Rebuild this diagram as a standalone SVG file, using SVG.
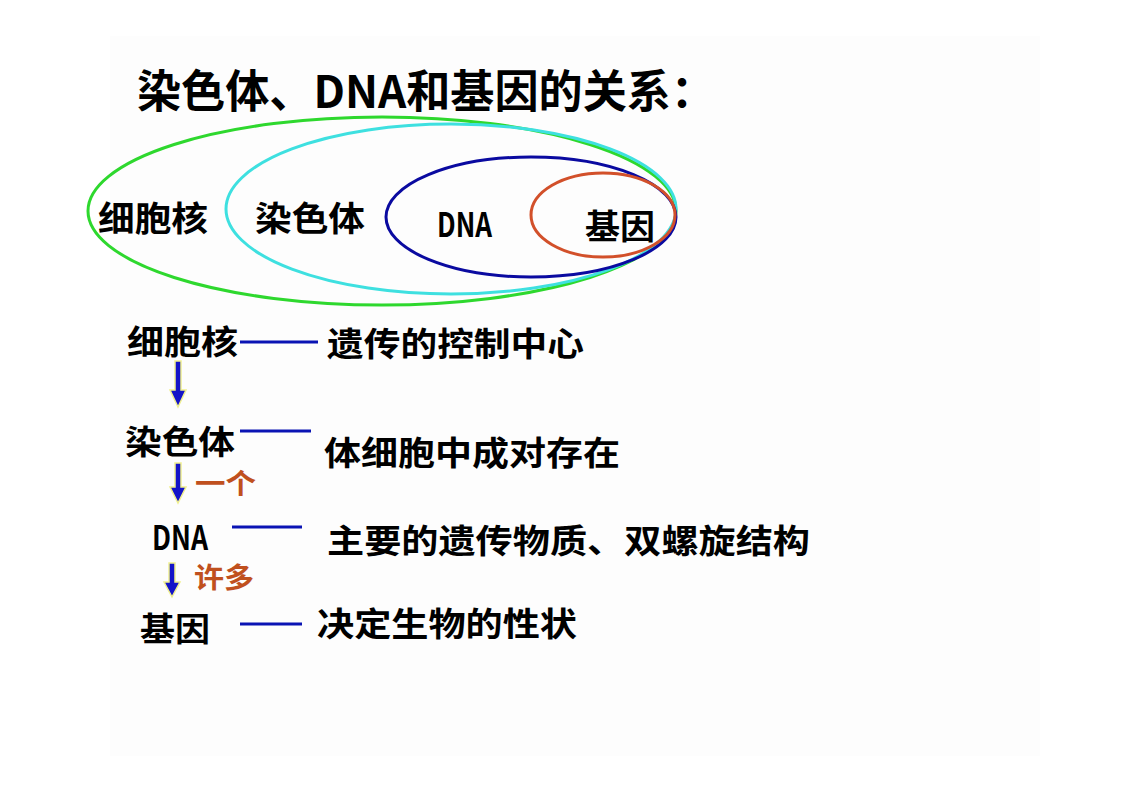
<svg xmlns="http://www.w3.org/2000/svg" width="1122" height="793" viewBox="0 0 1122 793">
<defs>
<style>
text{font-family:"Noto Sans CJK SC","Liberation Sans",sans-serif;fill:#000;font-weight:bold}
.t{font-size:34px}
.b{font-size:33px}
.r{font-size:28px;fill:#c0501e}
.ell{fill:none;stroke-width:3}
.lnk{stroke:#0a14b4;stroke-width:3;fill:none}
.arr{fill:#1414c8;stroke:#f0f090;stroke-width:1.5}
</style>
</defs>
<rect x="0" y="0" width="1122" height="793" fill="#ffffff"/>
<rect x="110" y="36" width="930" height="720" fill="#fdfdfd"/>
<g id="title"><text x="137" y="108" font-size="45" textLength="578" lengthAdjust="spacingAndGlyphs">染色体、DNA和基因的关系：</text></g>
<g id="venn">
<ellipse id="e-nucleus" class="ell" cx="382" cy="211" rx="294" ry="94" stroke="#2ed82e"/>
<ellipse id="e-chromosome" class="ell" cx="451" cy="209" rx="225" ry="85" stroke="#3ee0e0"/>
<ellipse id="e-dna" class="ell" cx="531" cy="217" rx="145" ry="60" stroke="#0a0aa0"/>
<ellipse id="e-gene" class="ell" cx="603" cy="215" rx="72" ry="42" stroke="#d2502a"/>
<text class="t" x="98" y="231" textLength="110" lengthAdjust="spacingAndGlyphs">细胞核</text>
<text class="t" x="255" y="231" textLength="110" lengthAdjust="spacingAndGlyphs">染色体</text>
<text class="t" x="437" y="237" textLength="55" lengthAdjust="spacingAndGlyphs">DNA</text>
<text class="t" x="585" y="239" textLength="70" lengthAdjust="spacingAndGlyphs">基因</text>
</g>
<g id="connectors">
<line class="lnk" x1="240" y1="342" x2="318" y2="342"/>
<line class="lnk" x1="240" y1="431" x2="311" y2="431"/>
<line class="lnk" x1="232" y1="527" x2="302" y2="527"/>
<line class="lnk" x1="240" y1="624" x2="302" y2="624"/>
<polygon class="arr" points="175,361 181,361 181,390 186,390 178,407 170,390 175,390"/>
<polygon class="arr" points="175,463 181,463 181,487 186,487 178,503 170,487 175,487"/>
<polygon class="arr" points="169,563 175,563 175,582 180,582 172,597 164,582 169,582"/>
</g>
<g id="n-nucleus"><text class="b" x="127" y="354" textLength="111" lengthAdjust="spacingAndGlyphs">细胞核</text></g>
<g id="d-nucleus"><text class="b" x="327" y="356" textLength="257" lengthAdjust="spacingAndGlyphs">遗传的控制中心</text></g>
<g id="n-chromosome"><text class="b" x="125" y="454" textLength="110" lengthAdjust="spacingAndGlyphs">染色体</text></g>
<g id="d-chromosome"><text class="b" x="324" y="465" textLength="296" lengthAdjust="spacingAndGlyphs">体细胞中成对存在</text></g>
<g id="l-one"><text class="r" x="195" y="494" textLength="61" lengthAdjust="spacingAndGlyphs">一个</text></g>
<g id="n-dna"><text class="b" x="152" y="550" textLength="56" lengthAdjust="spacingAndGlyphs">DNA</text></g>
<g id="d-dna"><text class="b" x="327" y="553" textLength="483" lengthAdjust="spacingAndGlyphs">主要的遗传物质、双螺旋结构</text></g>
<g id="l-many"><text class="r" x="194" y="588" textLength="60" lengthAdjust="spacingAndGlyphs">许多</text></g>
<g id="n-gene"><text class="b" x="140" y="641" textLength="70" lengthAdjust="spacingAndGlyphs">基因</text></g>
<g id="d-gene"><text class="b" x="317" y="636" textLength="260" lengthAdjust="spacingAndGlyphs">决定生物的性状</text></g>
</svg>
